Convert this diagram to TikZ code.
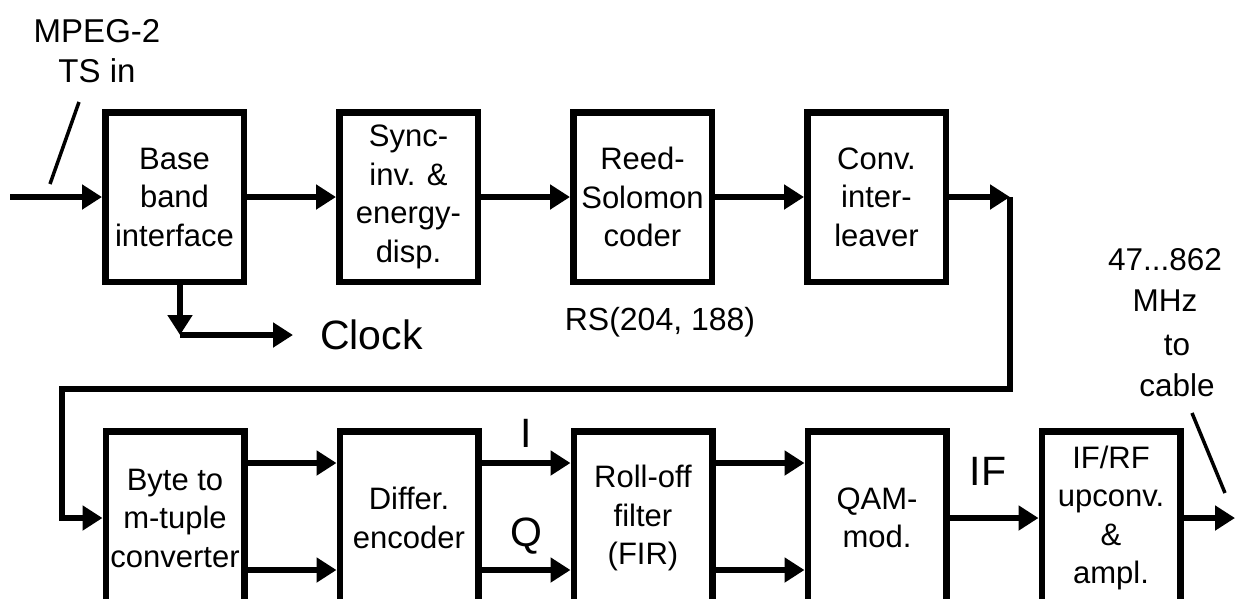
\documentclass[tikz,border=0pt]{standalone}
\usepackage{fontspec}
\setmainfont{Liberation Sans}
\usetikzlibrary{positioning,arrows.meta}

\begin{document}
\begin{tikzpicture}[
	x=1pt, y=1pt,
	font=\fontsize{31}{38.5}\selectfont,
	node distance=89pt,
	block/.style={
		draw,
		line width=6.5pt,
		minimum width=138.5pt,
		minimum height=169.5pt,
		inner sep=2pt,
		align=center,
	},
	lowblock/.style={block, minimum height=173.5pt},
	arr/.style={-{Triangle[length=20pt,width=24pt]}, line width=6pt},
	tick/.style={line width=3.5pt},
	sig/.style={font=\fontsize{41}{48}\selectfont, inner sep=0pt},
	note/.style={align=center, inner sep=0pt},
	line join=miter,
]

\useasboundingbox (0,0) rectangle (1235,-598);
\clip (0,0) rectangle (1235,-598);

% --- Top row ---
\node[block] (base) at (174.5,-197) {Base\\band\\interface};
\node[block, right=of base] (sync) {Sync-\\inv. \&\\energy-\\disp.};
\node[block, right=of sync] (reed) {Reed-\\Solomon\\coder};
\node[block, right=of reed] (conv) {Conv.\\inter-\\leaver};

% --- Bottom row ---
\node[lowblock] (byte) at (175,-518) {Byte to\\m-tuple\\converter};
\node[lowblock, right=of byte] (differ) {Differ.\\encoder};
\node[lowblock, right=of differ] (rolloff) {Roll-off\\filter\\(FIR)};
\node[lowblock, right=of rolloff] (qam) {QAM-\\mod.};
\node[lowblock, right=of qam] (upconv) {IF/RF\\upconv.\\\&\\ampl.};

% --- Free ends and corners ---
\coordinate (tsIn) at (10,-197);
\coordinate (loopTop) at (1010,-197);
\coordinate (loopRight) at (1010,-389);
\coordinate (loopLeft) at (62,-389);
\coordinate (clkCorner) at (180,-335);
\coordinate (clkEnd) at (293,-335);
\coordinate (cableOut) at (1235,-518);

% --- Labels ---
\node[note, font=\fontsize{33}{40}\selectfont] (tsLabel) at (97,-51) {MPEG-2\\TS in};
\node[note, font=\fontsize{32}{38.5}\selectfont] (rsLabel) at (660,-322) {RS(204, 188)};
\node[note, font=\fontsize{31.5}{41}\selectfont] (freqLabel) at (1165,-280) {47...862\\MHz};
\node[note, font=\fontsize{31.5}{41}\selectfont] (cableLabel) at (1177,-366) {to\\cable};
\node[sig, right=27pt of clkEnd] (clock) {Clock};

% --- Top chain ---
\draw[arr] (tsIn) -- (base.west);
\draw[arr] (base) -- (sync);
\draw[arr] (sync) -- (reed);
\draw[arr] (reed) -- (conv);
\draw[arr] (conv.east) -- (loopTop);
\draw[arr] (loopTop) -- (loopRight) -- (loopLeft) |- (byte.west);

% --- Clock output ---
\draw[arr] (base.south -| clkCorner) -- (clkCorner);
\draw[arr] (clkCorner) -- (clkEnd);

% --- Bottom chain, I and Q branches ---
\draw[arr] ([yshift=55pt]byte.east) -- ([yshift=55pt]differ.west);
\draw[arr] ([yshift=-52pt]byte.east) -- ([yshift=-52pt]differ.west);
\draw[arr] ([yshift=55pt]differ.east) -- node[sig, above=13pt] (lblI) {I} ([yshift=55pt]rolloff.west);
\draw[arr] ([yshift=-52pt]differ.east) -- node[sig, above=13pt] (lblQ) {Q} ([yshift=-52pt]rolloff.west);
\draw[arr] ([yshift=55pt]rolloff.east) -- ([yshift=55pt]qam.west);
\draw[arr] ([yshift=-52pt]rolloff.east) -- ([yshift=-52pt]qam.west);
\draw[arr] (qam) -- node[sig, above=30pt, xshift=-6pt] (lblIF) {IF} (upconv);
\draw[arr] (upconv.east) -- (cableOut);

% --- Bus ticks ---
\draw[tick] (79,-102) -- (50,-184);
\draw[tick] (1192,-413) -- (1225,-493);

\end{tikzpicture}
\end{document}
